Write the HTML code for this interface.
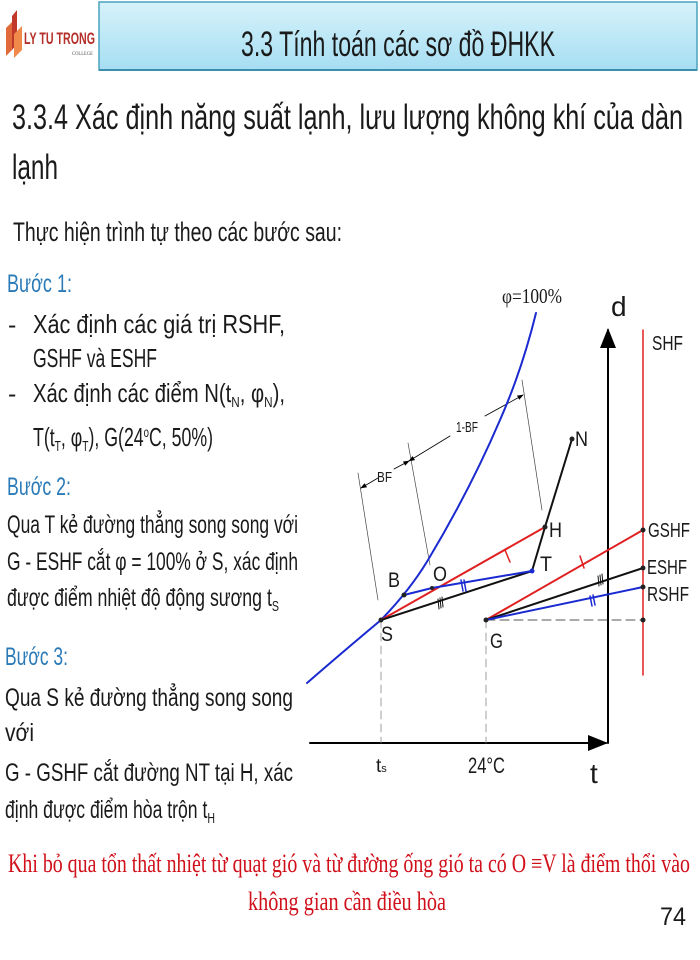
<!DOCTYPE html>
<html><head><meta charset="utf-8"><style>
html,body{margin:0;padding:0;background:#fff;}
svg{display:block;}
.t{font-family:"Liberation Sans",sans-serif;fill:#1a1a1a;}
.b{font-family:"Liberation Sans",sans-serif;fill:#2a7ab8;}
.r{font-family:"Liberation Serif",serif;fill:#d0101a;}
.s{font-family:"Liberation Serif",serif;fill:#1a1a1a;}
</style></head><body>
<svg width="700" height="960" viewBox="0 0 700 960" xmlns="http://www.w3.org/2000/svg">
<defs>
<linearGradient id="g" x1="0" y1="0" x2="0" y2="1"><stop offset="0" stop-color="#d6f2fb"/><stop offset="1" stop-color="#a6def2"/></linearGradient>
<marker id="ar" markerWidth="10" markerHeight="8" refX="9" refY="4" orient="auto"><path d="M0,0 L10,4 L0,8 z" fill="#000"/></marker>
<marker id="sa" markerWidth="8" markerHeight="6" refX="7" refY="3" orient="auto-start-reverse"><path d="M0,0 L8,3 L0,6 z" fill="#000"/></marker>
</defs>
<rect width="700" height="960" fill="#fff"/>
<!-- logo -->
<path d="M6,56 L6,28 L12,22 L12,50 z" fill="#e06a3a"/>
<path d="M12,50 L12,16 L17,10 L17,44 z" fill="#c0392b"/>
<path d="M14,58 L14,34 L22,26 L22,50 z" fill="#f08a4b"/>
<text x="24" y="44" font-family="Liberation Sans,sans-serif" font-weight="bold" font-size="17" fill="#b5302a" textLength="71" lengthAdjust="spacingAndGlyphs">LY TU TRONG</text>
<text x="72" y="55" font-family="Liberation Serif,serif" font-size="5" fill="#555" textLength="21" lengthAdjust="spacingAndGlyphs">COLLEGE</text>
<!-- title box -->
<rect x="99" y="2" width="598" height="68" fill="url(#g)" stroke="#4aa3c0" stroke-width="1.5"/>
<line x1="99" y1="70" x2="697" y2="70" stroke="#3b8fab" stroke-width="2"/>
<text class="t" x="241" y="56" font-size="35" fill="#333" textLength="314" lengthAdjust="spacingAndGlyphs">3.3 Tính toán các sơ đồ ĐHKK</text>
<text class="t" x="12" y="129" font-size="35" textLength="671" lengthAdjust="spacingAndGlyphs">3.3.4 Xác định năng suất lạnh, lưu lượng không khí của dàn</text>
<text class="t" x="12" y="179" font-size="35" textLength="46" lengthAdjust="spacingAndGlyphs">lạnh</text>
<text class="t" x="13" y="241" font-size="27" textLength="329" lengthAdjust="spacingAndGlyphs">Thực hiện trình tự theo các bước sau:</text>
<text class="b" x="7" y="292" font-size="25" textLength="65" lengthAdjust="spacingAndGlyphs">Bước 1:</text>
<text class="t" x="8" y="333" font-size="25">-</text>
<text class="t" x="33" y="333" font-size="26" textLength="252" lengthAdjust="spacingAndGlyphs">Xác  định  các  giá  trị  RSHF,</text>
<text class="t" x="33" y="367" font-size="26" textLength="124" lengthAdjust="spacingAndGlyphs">GSHF và ESHF</text>
<text class="t" x="8" y="402" font-size="25">-</text>
<text class="t" x="33" y="402" font-size="26" textLength="252" lengthAdjust="spacingAndGlyphs">Xác  định  các  điểm  N(t<tspan font-size="15" dy="5">N</tspan><tspan dy="-5">,  φ</tspan><tspan font-size="15" dy="5">N</tspan><tspan dy="-5">),</tspan></text>
<text class="t" x="33" y="446" font-size="26" textLength="180" lengthAdjust="spacingAndGlyphs">T(t<tspan font-size="15" dy="5">T</tspan><tspan dy="-5">, φ</tspan><tspan font-size="15" dy="5">T</tspan><tspan dy="-5">), G(24</tspan><tspan font-size="14" dy="-9">o</tspan><tspan dy="9">C, 50%)</tspan></text>
<text class="b" x="7" y="495" font-size="25" textLength="64" lengthAdjust="spacingAndGlyphs">Bước 2:</text>
<text class="t" x="7" y="533" font-size="25" textLength="291" lengthAdjust="spacingAndGlyphs">Qua T kẻ đường thẳng song song với</text>
<text class="t" x="7" y="570" font-size="25" textLength="291" lengthAdjust="spacingAndGlyphs">G - ESHF cắt φ = 100% ở S, xác định</text>
<text class="t" x="7" y="606" font-size="25" textLength="272" lengthAdjust="spacingAndGlyphs">được điểm nhiệt độ động sương t<tspan font-size="15" dy="5">S</tspan></text>
<text class="b" x="5" y="665" font-size="25" textLength="63" lengthAdjust="spacingAndGlyphs">Bước 3:</text>
<text class="t" x="5" y="706" font-size="25" textLength="288" lengthAdjust="spacingAndGlyphs">Qua  S  kẻ  đường  thẳng  song  song</text>
<text class="t" x="5" y="741" font-size="25" textLength="29" lengthAdjust="spacingAndGlyphs">với</text>
<text class="t" x="5" y="781" font-size="25" textLength="288" lengthAdjust="spacingAndGlyphs">G - GSHF cắt đường NT tại H, xác</text>
<text class="t" x="5" y="818" font-size="25" textLength="210" lengthAdjust="spacingAndGlyphs">định được điểm hòa trộn t<tspan font-size="15" dy="5">H</tspan></text>
<text class="r" x="8" y="872" font-size="26" textLength="682" lengthAdjust="spacingAndGlyphs">Khi bỏ qua tổn thất nhiệt từ quạt gió và từ đường ống gió ta có O ≡V là điểm thổi vào</text>
<text class="r" x="248" y="910" font-size="26" textLength="198" lengthAdjust="spacingAndGlyphs">không gian cần điều hòa</text>
<text class="t" x="660" y="925" font-size="25" textLength="26" lengthAdjust="spacingAndGlyphs">74</text>

<!-- chart -->
<g fill="none" stroke-linecap="round">
<line x1="310" y1="743" x2="606" y2="743" stroke="#000" stroke-width="2" marker-end="url(#ar)"/>
<line x1="608" y1="743" x2="608" y2="330" stroke="#000" stroke-width="2" marker-end="url(#ar)"/>
<line x1="643" y1="330" x2="643" y2="675" stroke="#e02020" stroke-width="1.5"/>
<line x1="381" y1="620" x2="381" y2="743" stroke="#888" stroke-width="0.8" stroke-dasharray="8,5"/>
<line x1="486" y1="620" x2="486" y2="743" stroke="#888" stroke-width="0.8" stroke-dasharray="8,5"/>
<line x1="486" y1="620" x2="643" y2="620" stroke="#555" stroke-width="1" stroke-dasharray="9,5"/>
<line x1="358" y1="473" x2="378" y2="600" stroke="#444" stroke-width="0.7"/>
<line x1="408" y1="443" x2="430" y2="565" stroke="#444" stroke-width="0.7"/>
<line x1="522" y1="380" x2="542" y2="510" stroke="#444" stroke-width="0.7"/>
<line x1="361" y1="488" x2="378" y2="478" stroke="#000" stroke-width="0.8" marker-start="url(#sa)"/>
<line x1="394" y1="469" x2="409" y2="461" stroke="#000" stroke-width="0.8" marker-end="url(#sa)"/>
<line x1="409" y1="461" x2="450" y2="436" stroke="#000" stroke-width="0.8" marker-start="url(#sa)"/>
<line x1="485" y1="416" x2="523" y2="395" stroke="#000" stroke-width="0.8" marker-end="url(#sa)"/>
<path d="M307,683 Q345,650 381,620 Q410,590 428,560 Q470,490 500,420 Q522,370 536,313" stroke="#1a2ad0" stroke-width="2"/>
<line x1="381" y1="620" x2="545" y2="527" stroke="#e02020" stroke-width="2"/>
<line x1="381" y1="620" x2="532" y2="571" stroke="#111" stroke-width="2"/>
<polyline points="404,595 432,588 532,571" stroke="#1a2ad0" stroke-width="2"/>
<polyline points="532,571 545,527 572,439" stroke="#111" stroke-width="2"/>
<line x1="486" y1="620" x2="643" y2="530" stroke="#e02020" stroke-width="2"/>
<line x1="486" y1="620" x2="643" y2="568" stroke="#111" stroke-width="2"/>
<line x1="486" y1="620" x2="643" y2="587" stroke="#1a2ad0" stroke-width="2"/>
<line x1="505" y1="550" x2="510" y2="562" stroke="#e02020" stroke-width="1.5"/>
<line x1="580" y1="556" x2="584" y2="568" stroke="#e02020" stroke-width="1.5"/>
<line x1="461" y1="580" x2="463" y2="591" stroke="#1a2ad0" stroke-width="1.5"/><line x1="464" y1="580" x2="466" y2="591" stroke="#1a2ad0" stroke-width="1.5"/>
<line x1="590" y1="596" x2="592" y2="606" stroke="#1a2ad0" stroke-width="1.5"/><line x1="593" y1="595" x2="595" y2="605" stroke="#1a2ad0" stroke-width="1.5"/>
<line x1="438" y1="599" x2="439" y2="609" stroke="#111" stroke-width="1"/><line x1="440" y1="598" x2="441" y2="608" stroke="#111" stroke-width="1"/><line x1="442" y1="597" x2="443" y2="607" stroke="#111" stroke-width="1"/>
<line x1="598" y1="576" x2="599" y2="586" stroke="#111" stroke-width="1"/><line x1="600" y1="575" x2="601" y2="585" stroke="#111" stroke-width="1"/><line x1="602" y1="574" x2="603" y2="584" stroke="#111" stroke-width="1"/>
</g>
<g fill="#222">
<circle cx="381" cy="620" r="2.5"/><circle cx="404" cy="595" r="2.5"/><circle cx="432" cy="588" r="2"/><circle cx="532" cy="571" r="2.5" fill="#1a2ad0"/>
<circle cx="545" cy="527" r="2.5"/><circle cx="572" cy="439" r="2.5"/><circle cx="486" cy="620" r="2.5"/>
<circle cx="643" cy="530" r="2.5"/><circle cx="643" cy="568" r="2.5"/><circle cx="643" cy="587" r="2.5"/><circle cx="643" cy="620" r="2.5"/>
</g>
<text class="s" x="502" y="303" font-size="21" textLength="60" lengthAdjust="spacingAndGlyphs">φ=100%</text>
<text class="t" x="611" y="316" font-size="28">d</text>
<text class="t" x="652" y="350" font-size="20" textLength="31" lengthAdjust="spacingAndGlyphs">SHF</text>
<text class="t" x="456" y="432" font-size="15" textLength="22" lengthAdjust="spacingAndGlyphs">1-BF</text>
<text class="t" x="377" y="482" font-size="15" textLength="15" lengthAdjust="spacingAndGlyphs">BF</text>
<text class="t" x="575" y="446" font-size="21" textLength="13" lengthAdjust="spacingAndGlyphs">N</text>
<text class="t" x="549" y="537" font-size="21" textLength="13" lengthAdjust="spacingAndGlyphs">H</text>
<text class="t" x="540" y="571" font-size="21" textLength="12" lengthAdjust="spacingAndGlyphs">T</text>
<text class="t" x="433" y="581" font-size="21" textLength="14" lengthAdjust="spacingAndGlyphs">O</text>
<text class="t" x="388" y="587" font-size="21" textLength="12" lengthAdjust="spacingAndGlyphs">B</text>
<text class="t" x="381" y="641" font-size="21" textLength="12" lengthAdjust="spacingAndGlyphs">S</text>
<text class="t" x="490" y="648" font-size="21" textLength="13" lengthAdjust="spacingAndGlyphs">G</text>
<text class="t" x="648" y="537" font-size="20" textLength="42" lengthAdjust="spacingAndGlyphs">GSHF</text>
<text class="t" x="647" y="574" font-size="20" textLength="40" lengthAdjust="spacingAndGlyphs">ESHF</text>
<text class="t" x="647" y="601" font-size="20" textLength="42" lengthAdjust="spacingAndGlyphs">RSHF</text>
<text class="t" x="376" y="772" font-size="19">t<tspan font-size="11">s</tspan></text>
<text class="t" x="468" y="773" font-size="22" textLength="37" lengthAdjust="spacingAndGlyphs">24°C</text>
<text class="t" x="590" y="783" font-size="28">t</text>
</svg>
</body></html>
